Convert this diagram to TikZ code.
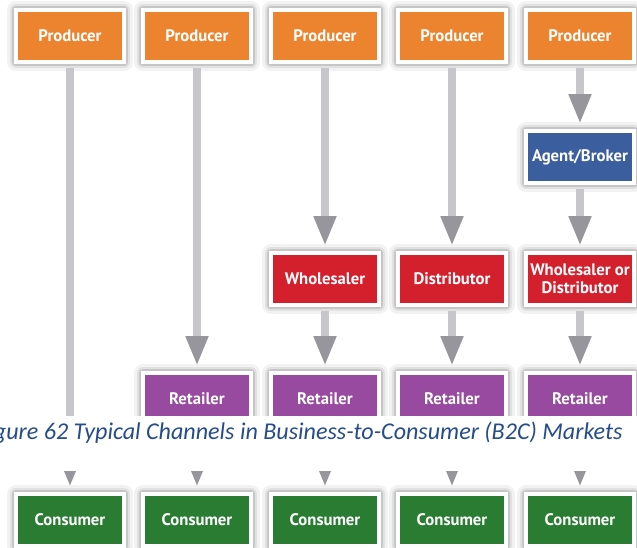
\documentclass[tikz,border=0pt]{standalone}
\usepackage{fontspec}
\newfontfamily\boxfont{PT Sans}
\newfontfamily\capfont{Carlito}
\usepackage{tikz}
\usetikzlibrary{arrows.meta,positioning}

\definecolor{prodorange}{RGB}{236,131,47}
\definecolor{agentblue}{RGB}{58,94,158}
\definecolor{midred}{RGB}{212,32,44}
\definecolor{retpurple}{RGB}{152,73,160}
\definecolor{consgreen}{RGB}{42,124,50}
\definecolor{shaftgray}{RGB}{198,198,203}
\definecolor{headgray}{RGB}{150,150,156}
\definecolor{capblue}{RGB}{38,76,138}

\begin{document}
\begin{tikzpicture}[x=0.02cm, y=-0.02cm,
    box/.style={draw=white, line width=0.08cm, minimum width=2.16cm, minimum height=1.04cm,
      inner sep=0pt, align=center, text=white,
      font=\boxfont\bfseries\fontsize{9.5}{10.5}\selectfont,
      preaction={draw=black, opacity=0.05, line width=0.36cm, line join=round},
      preaction={draw=black, opacity=0.07, line width=0.26cm, line join=round},
      preaction={draw=black, opacity=0.12, line width=0.17cm, line join=round}},
    producer/.style={box, fill=prodorange},
    agent/.style={box, fill=agentblue},
    middleman/.style={box, fill=midred},
    retailer/.style={box, fill=retpurple},
    consumer/.style={box, fill=consgreen},
    flow/.style={draw=shaftgray, line width=0.18cm, shorten >=0.1cm, shorten <=0.08cm,
      -{Triangle[length=0.6cm, width=0.42cm, color=headgray]}}]
  \useasboundingbox (0,0) rectangle (637,548);

  % top and bottom rows
  \foreach \i/\x in {1/70,2/197,3/325,4/452,5/580} {
    \node[producer] (prod\i) at (\x,36) {Producer};
    \node[consumer] (cons\i) at (\x,520) {Consumer};
  }

  % middle rows
  \node[agent] (agent5) at (580,157) {Agent/Broker};
  \node[middleman] (whole3) at (325,279) {Wholesaler};
  \node[middleman] (dist4) at (452,279) {Distributor};
  \node[middleman] (whole5) at (580,279) {Wholesaler or\\Distributor};
  \foreach \i/\x in {2/197,3/325,4/452,5/580}
    \node[retailer] (ret\i) at (\x,399) {Retailer};

  % channels
  \draw[flow] (prod1) -- (cons1);
  \draw[flow] (prod2) -- (ret2);
  \draw[flow] (prod3) -- (whole3);
  \draw[flow] (whole3) -- (ret3);
  \draw[flow] (prod4) -- (dist4);
  \draw[flow] (dist4) -- (ret4);
  \draw[flow] (prod5) -- (agent5);
  \draw[flow] (agent5) -- (whole5);
  \draw[flow] (whole5) -- (ret5);
  \foreach \i in {2,...,5}
    \draw[flow] (ret\i) -- (cons\i);

  % caption band
  \fill[white] (0,416) rectangle (637,471);
  \node[anchor=base east, inner sep=0pt, text=capblue,
    font=\capfont\itshape\fontsize{13.7}{16}\selectfont] (caption) at (623,439)
    {Figure 62 Typical Channels in Business-to-Consumer (B2C) Markets};
\end{tikzpicture}
\end{document}
